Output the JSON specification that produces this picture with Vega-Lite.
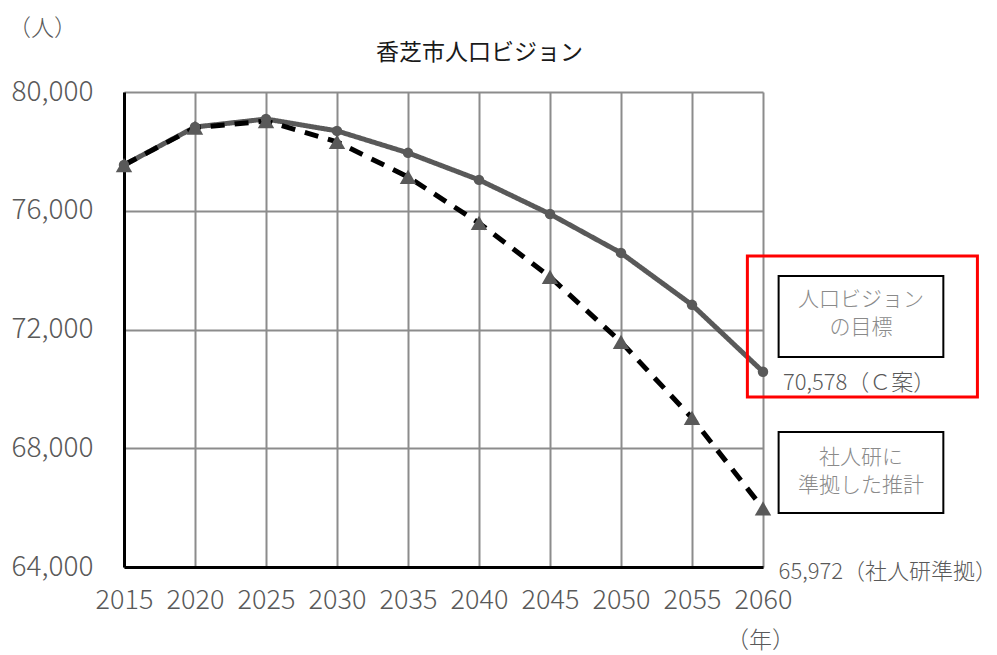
{
  "$schema": "https://vega.github.io/schema/vega-lite/v6.json",
  "autosize": {"type": "none"},
  "width": 639,
  "height": 475,
  "padding": {"left": 124, "top": 92, "right": 234, "bottom": 88},
  "background": "white",
  "config": {
    "view": {"stroke": null},
    "font": "Noto Sans CJK JP"
  },
  "title": {
    "text": "香芝市人口ビジョン",
    "fontSize": 23,
    "fontWeight": "normal",
    "color": "#1a1a1a",
    "font": "Noto Sans CJK JP",
    "anchor": "middle",
    "offset": -48,
    "dx": 36
  },
  "datasets": {
    "pop": [
      {"year": 2015, "value": 77540, "series": "人口ビジョンの目標"},
      {"year": 2020, "value": 78820, "series": "人口ビジョンの目標"},
      {"year": 2025, "value": 79090, "series": "人口ビジョンの目標"},
      {"year": 2030, "value": 78690, "series": "人口ビジョンの目標"},
      {"year": 2035, "value": 77950, "series": "人口ビジョンの目標"},
      {"year": 2040, "value": 77040, "series": "人口ビジョンの目標"},
      {"year": 2045, "value": 75890, "series": "人口ビジョンの目標"},
      {"year": 2050, "value": 74580, "series": "人口ビジョンの目標"},
      {"year": 2055, "value": 72830, "series": "人口ビジョンの目標"},
      {"year": 2060, "value": 70578, "series": "人口ビジョンの目標"},
      {"year": 2015, "value": 77540, "series": "社人研に準拠した推計"},
      {"year": 2020, "value": 78800, "series": "社人研に準拠した推計"},
      {"year": 2025, "value": 79020, "series": "社人研に準拠した推計"},
      {"year": 2030, "value": 78320, "series": "社人研に準拠した推計"},
      {"year": 2035, "value": 77140, "series": "社人研に準拠した推計"},
      {"year": 2040, "value": 75590, "series": "社人研に準拠した推計"},
      {"year": 2045, "value": 73770, "series": "社人研に準拠した推計"},
      {"year": 2050, "value": 71580, "series": "社人研に準拠した推計"},
      {"year": 2055, "value": 69020, "series": "社人研に準拠した推計"},
      {"year": 2060, "value": 65972, "series": "社人研に準拠した推計"}
    ],
    "boxes": [
      {"year": 2058.9, "year2": 2075.1, "value": 74476, "value2": 69727, "kind": "highlight"},
      {"year": 2061.1, "year2": 2072.7, "value": 73803, "value2": 71075, "kind": "label"},
      {"year": 2061.1, "year2": 2072.7, "value": 68549, "value2": 65821, "kind": "label"}
    ],
    "boxtext": [
      {"year": 2066.9, "value": 72994, "text": "人口ビジョン"},
      {"year": 2066.9, "value": 72051, "text": "の目標"},
      {"year": 2066.9, "value": 67673, "text": "社人研に"},
      {"year": 2066.9, "value": 66730, "text": "準拠した推計"}
    ],
    "valtext": [
      {"year": 2061.4, "value": 70199, "text": "70,578（Ｃ案）"},
      {"year": 2061.1, "value": 63833, "text": "65,972（社人研準拠）"}
    ]
  },
  "encoding": {
    "x": {
      "field": "year", "type": "quantitative",
      "scale": {"domain": [2015, 2060], "nice": false, "zero": false},
      "axis": {
        "values": [2015, 2020, 2025, 2030, 2035, 2040, 2045, 2050, 2055, 2060],
        "format": "d",
        "labelOverlap": false,
        "labelFlush": false,
        "grid": true, "gridColor": "#8c8c8c", "gridWidth": 2,
        "domainColor": "#000000", "domainWidth": 3,
        "ticks": false,
        "labelPadding": 20, "labelFontSize": 27, "labelColor": "#595959",
        "labelFont": "Noto Sans CJK JP", "labelFontWeight": 300,
        "title": "（年）", "titleFontSize": 23, "titleColor": "#595959",
        "titleFont": "Noto Sans CJK JP", "titleFontWeight": 300,
        "titleX": 636, "titleY": 73, "titleAlign": "center", "titleBaseline": "middle"
      }
    },
    "y": {
      "field": "value", "type": "quantitative",
      "scale": {"domain": [64000, 80000], "nice": false, "zero": false},
      "axis": {
        "values": [64000, 68000, 72000, 76000, 80000],
        "format": ",.0f",
        "labelOverlap": false,
        "labelFlush": false,
        "grid": true, "gridColor": "#8c8c8c", "gridWidth": 2,
        "domainColor": "#000000", "domainWidth": 3,
        "ticks": false,
        "labelPadding": 31, "labelFontSize": 28, "labelColor": "#595959",
        "labelFont": "Noto Sans CJK JP", "labelFontWeight": 300,
        "title": "（人）", "titleFontSize": 23, "titleColor": "#595959",
        "titleFont": "Noto Sans CJK JP", "titleFontWeight": 300,
        "titleAngle": 0, "titleX": -82, "titleY": -64,
        "titleAlign": "center", "titleBaseline": "middle"
      }
    }
  },
  "layer": [
    {
      "data": {"name": "pop"},
      "mark": {"type": "line", "strokeWidth": 5, "clip": false},
      "encoding": {
        "color": {
          "field": "series", "type": "nominal",
          "scale": {"domain": ["社人研に準拠した推計", "人口ビジョンの目標"], "range": ["#000000", "#595959"]},
          "legend": null
        },
        "strokeDash": {
          "field": "series", "type": "nominal",
          "scale": {"domain": ["社人研に準拠した推計", "人口ビジョンの目標"], "range": [[14, 10], [1, 0]]},
          "legend": null
        },
        "order": {"field": "year"}
      }
    },
    {
      "data": {"name": "pop"},
      "mark": {"type": "point", "filled": true, "opacity": 1, "color": "#595959", "clip": false},
      "encoding": {
        "shape": {
          "field": "series", "type": "nominal",
          "scale": {"domain": ["社人研に準拠した推計", "人口ビジョンの目標"], "range": ["triangle-up", "circle"]},
          "legend": null
        },
        "size": {
          "field": "series", "type": "nominal",
          "scale": {"domain": ["社人研に準拠した推計", "人口ビジョンの目標"], "range": [270, 110]},
          "legend": null
        }
      }
    },
    {
      "data": {"name": "boxes"},
      "mark": {"type": "rect", "clip": false},
      "encoding": {
        "x2": {"field": "year2"},
        "y2": {"field": "value2"},
        "stroke": {
          "field": "kind", "type": "nominal",
          "scale": {"domain": ["highlight", "label"], "range": ["#ff0000", "#000000"]},
          "legend": null
        },
        "strokeWidth": {
          "field": "kind", "type": "nominal",
          "scale": {"domain": ["highlight", "label"], "range": [3, 2]},
          "legend": null
        },
        "fill": {
          "field": "kind", "type": "nominal",
          "scale": {"domain": ["highlight", "label"], "range": ["transparent", "#ffffff"]},
          "legend": null
        }
      }
    },
    {
      "data": {"name": "boxtext"},
      "mark": {"type": "text", "clip": false, "align": "center", "baseline": "middle", "fontSize": 21, "fontWeight": 300, "color": "#8a8a8a", "font": "Noto Sans CJK JP"},
      "encoding": {
        "text": {"field": "text"}
      }
    },
    {
      "data": {"name": "valtext"},
      "mark": {"type": "text", "clip": false, "align": "left", "baseline": "middle", "fontSize": 22, "fontWeight": 300, "color": "#595959", "font": "Noto Sans CJK JP"},
      "encoding": {
        "text": {"field": "text"}
      }
    }
  ]
}
